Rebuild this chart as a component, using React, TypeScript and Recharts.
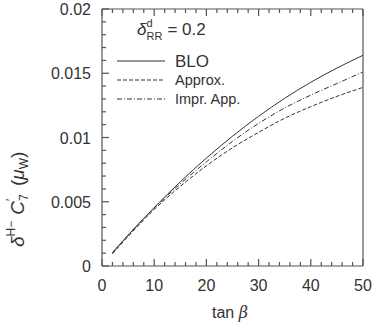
import { LineChart, Line, XAxis, YAxis, Customized } from 'recharts';

// tan(beta) sample points and the three curves
const tanBeta = [2, 5, 10, 15, 20, 25, 30, 35, 40, 45, 50];
const blo = [0.00105, 0.0024, 0.00455, 0.00655, 0.0084, 0.0101, 0.01165, 0.01305, 0.0143, 0.0154, 0.0164];
const approx = [0.00095, 0.0023, 0.0044, 0.0062, 0.0078, 0.0092, 0.0104, 0.0115, 0.0124, 0.0132, 0.0139];
const imprApp = [0.001, 0.0024, 0.0045, 0.0064, 0.0081, 0.0097, 0.0111, 0.0123, 0.0133, 0.0142, 0.0151];

const xTicks = [0, 2, 4, 6, 8, 10, 12, 14, 16, 18, 20, 22, 24, 26, 28, 30, 32, 34, 36, 38, 40, 42, 44, 46, 48, 50];
const xMajorLabels = ['0', '10', '20', '30', '40', '50'];
const yTicks = [0, 0.001, 0.002, 0.003, 0.004, 0.005, 0.006, 0.007, 0.008, 0.009, 0.01, 0.011, 0.012, 0.013, 0.014, 0.015, 0.016, 0.017, 0.018, 0.019, 0.02];
const yMajorLabels = ['0', '0.005', '0.01', '0.015', '0.02'];

const data = tanBeta.map((t, i) => ({ t, blo: blo[i], approx: approx[i], impr: imprApp[i] }));

const INK = '#333';
const FRAME = '#555';
const FONT = '"Liberation Sans", Arial, sans-serif';

const isXMajor = (v: number) => v % 10 === 0;
const isYMajor = (v: number) => Math.abs(v * 200 - Math.round(v * 200)) < 1e-6;

// ticks point into the plot; labels only on bottom / left
const makeTick = (side: 'bottom' | 'top' | 'left' | 'right') => (props: any) => {
  const { x, y, payload } = props;
  const v = payload.value;
  const major = side === 'bottom' || side === 'top' ? isXMajor(v) : isYMajor(v);
  const len = major ? 7 : 4;
  if (side === 'bottom') {
    return (
      <g>
        <line x1={x} y1={y} x2={x} y2={y - len} stroke={FRAME} strokeWidth={1.2} />
        {major && (
          <text x={x} y={y + 25} textAnchor="middle" fontSize={16} fill={INK} fontFamily={FONT}>
            {xMajorLabels[v / 10]}
          </text>
        )}
      </g>
    );
  }
  if (side === 'top') {
    return <line x1={x} y1={y} x2={x} y2={y + len} stroke={FRAME} strokeWidth={1.2} />;
  }
  if (side === 'left') {
    return (
      <g>
        <line x1={x} y1={y} x2={x + len} y2={y} stroke={FRAME} strokeWidth={1.2} />
        {major && (
          <text x={x - 11} y={y + 6} textAnchor="end" fontSize={16} fill={INK} fontFamily={FONT}>
            {yMajorLabels[Math.round(v * 200)]}
          </text>
        )}
      </g>
    );
  }
  return <line x1={x} y1={y} x2={x - len} y2={y} stroke={FRAME} strokeWidth={1.2} />;
};

const Annotations = () => (
  <g fontFamily={FONT} fill={INK}>
    {/* legend header */}
    <text x={137} y={35} fontSize={17}>
      <tspan fontStyle="italic">δ</tspan>
      <tspan fontSize={11} dy={-8}>d</tspan>
      <tspan fontSize={11} dx={-6} dy={13}>RR</tspan>
      <tspan dy={-5} dx={5}>= 0.2</tspan>
    </text>
    <line x1={117} y1={61} x2={165} y2={61} stroke={INK} strokeWidth={1} />
    <text x={175} y={67} fontSize={17}>BLO</text>
    <line x1={117} y1={80} x2={165} y2={80} stroke={INK} strokeWidth={1} strokeDasharray="4 2" />
    <text x={175} y={85} fontSize={14.5}>Approx.</text>
    <line x1={117} y1={99} x2={165} y2={99} stroke={INK} strokeWidth={1} strokeDasharray="5 2 1 2" />
    <text x={175} y={104} fontSize={14.5}>Impr.  App.</text>
    {/* axis titles */}
    <text x={212} y={318} fontSize={16}>
      tan <tspan fontStyle="italic" fontFamily="'DejaVu Serif', serif">β</tspan>
    </text>
    <text transform="translate(24 247) rotate(-90)" fontSize={19}>
      <tspan fontStyle="italic">δ</tspan>
      <tspan fontSize={12} dy={-9}>H−</tspan>
      <tspan dy={9} dx={6} fontStyle="italic">C</tspan>
      <tspan fontSize={12} dy={-9}>′</tspan>
      <tspan fontSize={12} dx={-2} dy={13}>7</tspan>
      <tspan dy={-4} dx={8}>(</tspan>
      <tspan fontStyle="italic">μ</tspan>
      <tspan fontSize={12} dy={4}>W</tspan>
      <tspan dy={-4}>)</tspan>
    </text>
  </g>
);

export default function App() {
  return (
    <div style={{ position: 'absolute', left: 0, top: 0, width: 374, height: 325, background: '#fff' }}>
      <LineChart width={374} height={325} data={data} margin={{ top: 8, right: 10, bottom: 58, left: 101 }}>
        <XAxis
          dataKey="t"
          type="number"
          domain={[0, 50]}
          ticks={xTicks}
          interval={0}
          tickSize={0}
          tickMargin={0}
          height={1}
          stroke={FRAME}
          strokeWidth={1.2}
          tick={makeTick('bottom')}
        />
        <XAxis
          xAxisId="top"
          orientation="top"
          dataKey="t"
          type="number"
          domain={[0, 50]}
          ticks={xTicks}
          interval={0}
          tickSize={0}
          tickMargin={0}
          height={1}
          stroke={FRAME}
          strokeWidth={1.2}
          tick={makeTick('top')}
        />
        <YAxis
          type="number"
          domain={[0, 0.02]}
          ticks={yTicks}
          interval={0}
          tickSize={0}
          tickMargin={0}
          width={1}
          stroke={FRAME}
          strokeWidth={1.2}
          tick={makeTick('left')}
        />
        <YAxis
          yAxisId="right"
          orientation="right"
          type="number"
          domain={[0, 0.02]}
          ticks={yTicks}
          interval={0}
          tickSize={0}
          tickMargin={0}
          width={1}
          stroke={FRAME}
          strokeWidth={1.2}
          tick={makeTick('right')}
        />
        <Line type="monotone" dataKey="blo" stroke={INK} strokeWidth={1} dot={false} isAnimationActive={false} />
        <Line type="monotone" dataKey="approx" stroke={INK} strokeWidth={1} strokeDasharray="4 2" dot={false} isAnimationActive={false} />
        <Line type="monotone" dataKey="impr" stroke={INK} strokeWidth={1} strokeDasharray="5 2 1 2" dot={false} isAnimationActive={false} />
        <Customized component={Annotations} />
      </LineChart>
    </div>
  );
}
